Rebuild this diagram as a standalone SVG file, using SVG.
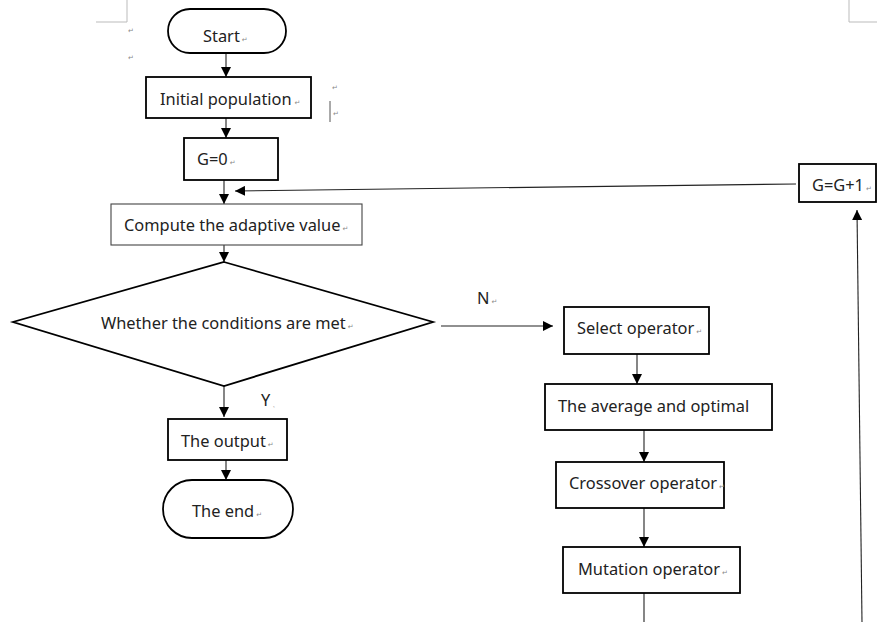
<svg xmlns="http://www.w3.org/2000/svg" width="877" height="622" viewBox="0 0 877 622">
<style>
  .box { fill: #fff; stroke: #000; stroke-width: 1.8; }
  .thin { fill: #fff; stroke: #444; stroke-width: 1.1; }
  .lbl { font-family: "Noto Sans", "Open Sans", sans-serif; font-size: 16.4px; fill: #222; }
  .pm { font-family: "DejaVu Sans", sans-serif; font-size: 7px; fill: #888; }
  .con { fill: none; stroke: #222; stroke-width: 1.1; }
  .corner { fill: none; stroke: #bbb; stroke-width: 1; }
</style>
<defs>
  <marker id="ah" viewBox="0 0 10 10" refX="10" refY="5" markerWidth="10" markerHeight="10" markerUnits="userSpaceOnUse" orient="auto">
    <path d="M0,0 L10,5 L0,10 Z" fill="#000"/>
  </marker>
</defs>
<rect width="877" height="622" fill="#fff"/>
<g id="corners">
  <path class="corner" d="M96,22 H127 V0"/>
  <path class="corner" d="M849,0 V22 H877"/>
  <text class="pm" x="128" y="33">↵</text>
  <text class="pm" x="128" y="60">↵</text>
  <text class="pm" x="332" y="90">↵</text>
  <text class="pm" x="333" y="116">↵</text>
  <line x1="330" y1="101" x2="330" y2="122" stroke="#555" stroke-width="1"/>
</g>
<g id="connectors">
  <line class="con" x1="226" y1="53" x2="226" y2="77" marker-end="url(#ah)"/>
  <line class="con" x1="226" y1="118" x2="226" y2="138" marker-end="url(#ah)"/>
  <line class="con" x1="224" y1="180" x2="224" y2="204" marker-end="url(#ah)"/>
  <line class="con" x1="224" y1="245" x2="224" y2="262" marker-end="url(#ah)"/>
  <line class="con" x1="224" y1="386" x2="224" y2="417" marker-end="url(#ah)"/>
  <line class="con" x1="226" y1="460" x2="226" y2="480" marker-end="url(#ah)"/>
  <line class="con" x1="441" y1="326" x2="553" y2="326" marker-end="url(#ah)"/>
  <line class="con" x1="637" y1="354" x2="637" y2="384" marker-end="url(#ah)"/>
  <line class="con" x1="644" y1="430" x2="644" y2="462" marker-end="url(#ah)"/>
  <line class="con" x1="644" y1="508" x2="644" y2="547" marker-end="url(#ah)"/>
  <line class="con" x1="644" y1="593" x2="644" y2="622"/>
  <line class="con" x1="862" y1="622" x2="857" y2="210" marker-end="url(#ah)"/>
  <line class="con" x1="796" y1="184" x2="235" y2="191" marker-end="url(#ah)"/>
  <text class="lbl" x="477" y="304">N<tspan class="pm" dx="2">↵</tspan></text>
  <text class="lbl" x="261" y="406">Y<tspan class="pm" dx="2">˛</tspan></text>
</g>
<g id="start">
  <rect class="box" x="168" y="9" width="118" height="44" rx="22" ry="22"/>
  <text class="lbl" x="203" y="42">Start<tspan class="pm" dx="2">↵</tspan></text>
</g>
<g id="initial">
  <rect class="box" x="146" y="77" width="165" height="41"/>
  <text class="lbl" x="160" y="105">Initial population<tspan class="pm" dx="3">↵</tspan></text>
</g>
<g id="g0">
  <rect class="box" x="184" y="138" width="94" height="42"/>
  <text class="lbl" x="197" y="165">G=0<tspan class="pm" dx="2">↵</tspan></text>
</g>
<g id="compute">
  <rect class="thin" x="111" y="204" width="251" height="41"/>
  <text class="lbl" x="124" y="231">Compute the adaptive value<tspan class="pm" dx="2">↵</tspan></text>
</g>
<g id="decision">
  <polygon class="box" points="224,262 433,322 224,386 13,322"/>
  <text class="lbl" x="101" y="329">Whether the conditions are met<tspan class="pm" dx="2">↵</tspan></text>
</g>
<g id="output">
  <rect class="box" x="168" y="419" width="119" height="41"/>
  <text class="lbl" x="181" y="447">The output<tspan class="pm" dx="2">↵</tspan></text>
</g>
<g id="end">
  <rect class="box" x="163" y="480" width="130" height="58" rx="29" ry="29"/>
  <text class="lbl" x="192" y="517">The end<tspan class="pm" dx="2">↵</tspan></text>
</g>
<g id="select">
  <rect class="box" x="564" y="307" width="145" height="47"/>
  <text class="lbl" x="577" y="334">Select operator<tspan class="pm" dx="2">↵</tspan></text>
</g>
<g id="average">
  <rect class="box" x="545" y="384" width="227" height="46"/>
  <text class="lbl" x="558" y="412">The average and optimal</text>
</g>
<g id="crossover">
  <rect class="box" x="556" y="462" width="168" height="46"/>
  <text class="lbl" x="569" y="489">Crossover operator<tspan class="pm" dx="2">↵</tspan></text>
</g>
<g id="mutation">
  <rect class="box" x="563" y="547" width="177" height="46"/>
  <text class="lbl" x="578" y="575">Mutation operator<tspan class="pm" dx="2">↵</tspan></text>
</g>
<g id="ginc">
  <rect class="box" x="799" y="164" width="77" height="38"/>
  <text class="lbl" x="812" y="191">G=G+1<tspan class="pm" dx="2">↵</tspan></text>
</g>
</svg>
